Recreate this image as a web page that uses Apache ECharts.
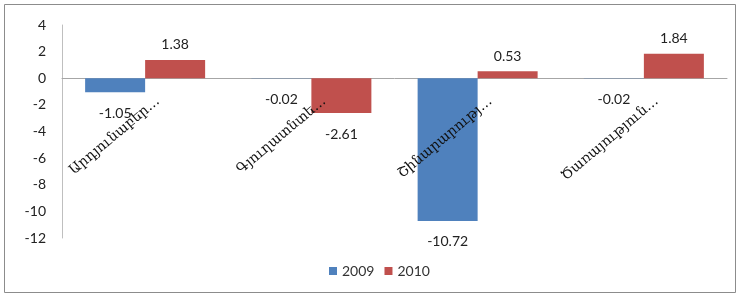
<!DOCTYPE html>
<html>
<head>
<meta charset="utf-8">
<script src="https://cdn.jsdelivr.net/npm/echarts@6/dist/echarts.min.js"></script>
<style>
  html, body { margin: 0; padding: 0; background: #fff; }
  #main { width: 739px; height: 297px; }
</style>
</head>
<body>
<div id="main"></div>
<script>
// categories and values
var categories = ['Արդյունաբեր…', 'Գյուղատնտե…', 'Շինարարությ…', 'Ծառայություն…'];
var values2009 = [-1.05, -0.02, -10.72, -0.02];
var values2010 = [1.38, -2.61, 0.53, 1.84];
var seriesNames = ['2009', '2010'];
var yMin = -12, yMax = 4, yStep = 2;

var myChart = echarts.init(document.getElementById('main'));

var gridTop = 25, gridBottom = 59;
var gridH = 297 - gridTop - gridBottom;
// distance from the bottom of the grid to the zero line
var zeroUp = gridH * (0 - yMin) / (yMax - yMin);

// positive -> label above, negative -> label below
function withLabels(arr) {
    return arr.map(function (v) {
        return {
            value: v,
            label: {
                position: v >= 0 ? 'top' : 'bottom',
                distance: v >= 0 ? 8 : 14
            }
        };
    });
}

var labelStyle = {
    show: true,
    color: '#222',
    fontFamily: 'Lato',
    fontSize: 14
};

option = {
    animation: false,
    textStyle: { fontFamily: 'Lato' },
    graphic: [{
        type: 'rect',
        shape: { x: 4.5, y: 4.5, width: 731, height: 288 },
        style: { fill: 'none', stroke: '#8c8c8c', lineWidth: 1 }
    }],
    grid: {
        left: 62,
        right: 12,
        top: gridTop,
        bottom: gridBottom,
        outerBoundsMode: 'none',
        containLabel: false
    },
    legend: {
        data: seriesNames,
        bottom: 14,
        left: 324,
        itemWidth: 8,
        itemHeight: 8,
        itemGap: 10,
        icon: 'rect',
        textStyle: { fontFamily: 'Lato', fontSize: 14, color: '#333' }
    },
    xAxis: [
        {
            type: 'category',
            data: categories,
            axisLine: { onZero: true, lineStyle: { color: '#a6a6a6' } },
            axisTick: { show: false },
            axisLabel: { show: false }
        },
        {
            // label-only axis, moved up to the zero line, drawn over the bars
            type: 'category',
            data: categories,
            position: 'bottom',
            offset: -zeroUp,
            z: 10,
            axisLine: { show: false },
            axisTick: { show: false },
            axisLabel: {
                rotate: 40,
                interval: 0,
                margin: 6,
                formatter: function (v) { return '{c|' + v + '}'; },
                rich: {
                    c: {
                        padding: [40, 0, 0, 0],
                        color: '#111',
                        fontFamily: 'DejaVu Serif',
                        fontSize: 14
                    }
                }
            }
        }
    ],
    yAxis: {
        type: 'value',
        min: yMin,
        max: yMax,
        interval: yStep,
        splitLine: { show: false },
        axisLine: { show: true, lineStyle: { color: '#bfbfbf' } },
        axisTick: { show: false },
        axisLabel: {
            margin: 16,
            color: '#222',
            fontFamily: 'Lato',
            fontSize: 14
        }
    },
    series: [
        {
            name: seriesNames[0],
            type: 'bar',
            barWidth: 60,
            barGap: '0%',
            itemStyle: { color: '#4f81bd' },
            label: labelStyle,
            data: withLabels(values2009)
        },
        {
            name: seriesNames[1],
            type: 'bar',
            barWidth: 60,
            barGap: '0%',
            itemStyle: { color: '#c0504d' },
            label: labelStyle,
            data: withLabels(values2010)
        }
    ]
};

myChart.setOption(option);
</script>
</body>
</html>
